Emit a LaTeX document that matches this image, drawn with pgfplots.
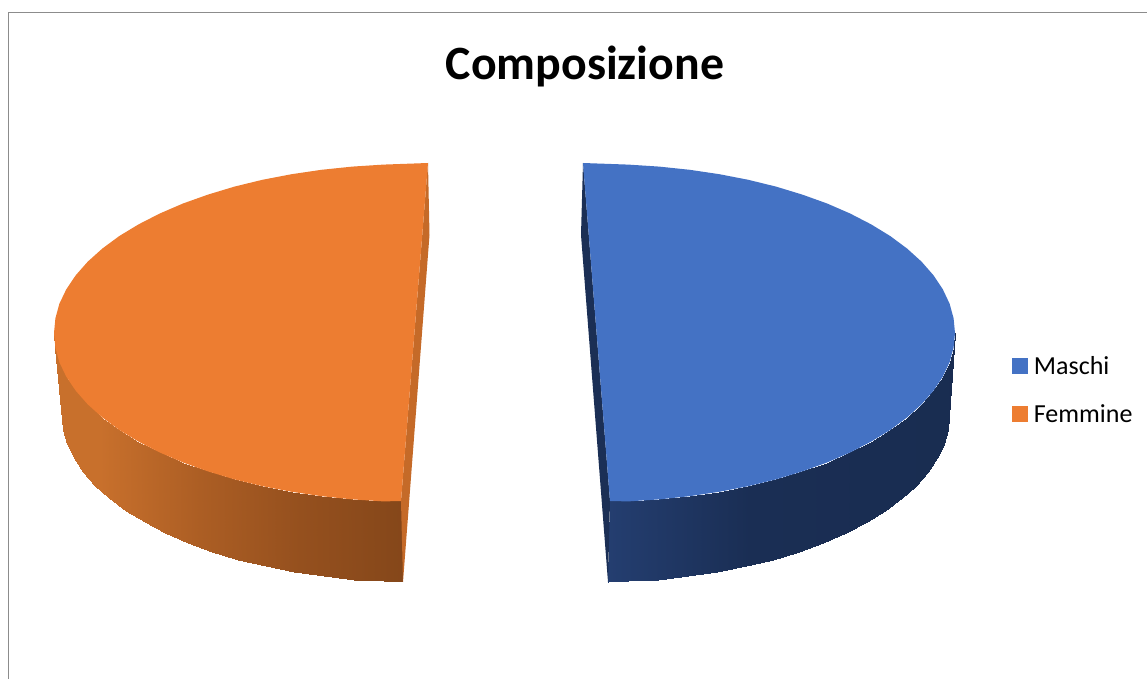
\documentclass[border=0pt]{standalone}
\usepackage{pgfplots}
\pgfplotsset{compat=1.18}
\usepackage{fontspec}
\setmainfont{Carlito}
\definecolor{blutop}{RGB}{68,114,196}
\definecolor{orangetop}{RGB}{237,125,49}
\definecolor{blusliver}{RGB}{27,47,85}
\definecolor{orangesliver}{RGB}{197,106,40}
\begin{document}
\begin{tikzpicture}
\path[use as bounding box] (0,0) rectangle (573.5pt,339.5pt);
\begin{axis}[
  at={(0,0)}, anchor=south west,
  scale only axis, width=573.5pt, height=339.5pt,
  xmin=0, xmax=1147, ymin=0, ymax=679, y dir=reverse,
  hide axis,
  colormap={pie}{rgb255(0pt)=(200,112,44); rgb255(100pt)=(200,112,44); rgb255(200pt)=(172,94,36); rgb255(300pt)=(149,80,30); rgb255(403pt)=(133,71,26); rgb255(607pt)=(133,71,26); rgb255(608pt)=(36,62,112); rgb255(750pt)=(26,46,84); rgb255(1147pt)=(24,43,78)},
  point meta min=0, point meta max=1147,
]
% frame
\addplot[color=black!45, line width=0.9pt] coordinates {(8.5,679) (8.5,12.5) (1147,12.5)};
% side walls
\addplot[surf, shader=interp, mesh/cols=2, point meta=x] coordinates {
(610,501) (608,582)
(628.2,501.4) (627.7,581.4)
(659.2,499.4) (658.1,579.5)
(689.7,496.2) (688.1,576.3)
(719.4,491.8) (717.4,571.9)
(748.3,486.2) (745.8,566.4)
(776,479.4) (773,559.6)
(802.3,471.4) (798.9,551.8)
(827.1,462.5) (823.3,542.9)
(850.1,452.5) (845.9,533.1)
(871.2,441.6) (866.6,522.3)
(890.3,429.9) (885.4,510.8)
(907,417.5) (901.8,498.5)
(921.5,404.4) (916,485.6)
(933.4,390.8) (927.8,472.1)
(942.8,376.7) (937,458.2)
(949.6,362.3) (943.7,444)
(953.6,347.7) (947.7,429.6)
(955,333) (949,415)
};
\addplot[surf, shader=interp, mesh/cols=2, point meta=x] coordinates {
(401,501) (403,582)
(383.5,501.4) (384.2,581.4)
(352.3,499.4) (353.7,579.5)
(321.5,496.2) (323.6,576.3)
(291.6,491.8) (294.2,571.9)
(262.4,486.2) (265.8,566.4)
(234.5,479.4) (238.5,559.6)
(208,471.4) (212.5,551.8)
(183,462.5) (188,542.9)
(159.8,452.5) (165.4,533.1)
(138.5,441.6) (144.6,522.3)
(119.2,429.9) (125.8,510.8)
(102.4,417.5) (109.3,498.5)
(87.8,404.4) (95.1,485.6)
(75.8,390.8) (83.2,472.1)
(66.3,376.7) (74,458.2)
(59.4,362.3) (67.3,444)
(55.4,347.7) (63.3,429.6)
(54,333) (62,415)
};
% inner cut faces
\addplot[fill=blusliver, draw=none] coordinates {(583,163) (581,235) (608,582) (610,501)} -- cycle;
\addplot[fill=orangesliver, draw=none] coordinates {(428,163) (429.5,235) (403,582) (401,501)} -- cycle;
% top faces
\addplot[fill=blutop, draw=none] coordinates {
(583,163) (628.2,164.6) (659.2,166.6) (689.7,169.8) (719.4,174.2) (748.3,179.8) (776,186.6) (802.3,194.6) (827.1,203.5) (850.1,213.5) (871.2,224.4) (890.3,236.1) (907,248.5) (921.5,261.6) (933.4,275.2) (942.8,289.3) (949.6,303.7) (953.6,318.3) (955,333) (953.6,347.7) (949.6,362.3) (942.8,376.7) (933.4,390.8) (921.5,404.4) (907,417.5) (890.3,429.9) (871.2,441.6) (850.1,452.5) (827.1,462.5) (802.3,471.4) (776,479.4) (748.3,486.2) (719.4,491.8) (689.7,496.2) (659.2,499.4) (628.2,501.4) (610,501)
} -- cycle;
\addplot[fill=orangetop, draw=none] coordinates {
(428,163) (383.5,164.6) (352.3,166.6) (321.5,169.8) (291.6,174.2) (262.4,179.8) (234.5,186.6) (208,194.6) (183,203.5) (159.8,213.5) (138.5,224.4) (119.2,236.1) (102.4,248.5) (87.8,261.6) (75.8,275.2) (66.3,289.3) (59.4,303.7) (55.4,318.3) (54,333) (55.4,347.7) (59.4,362.3) (66.3,376.7) (75.8,390.8) (87.8,404.4) (102.4,417.5) (119.2,429.9) (138.5,441.6) (159.8,452.5) (183,462.5) (208,471.4) (234.5,479.4) (262.4,486.2) (291.6,491.8) (321.5,496.2) (352.3,499.4) (383.5,501.4) (401,501)
} -- cycle;
% legend keys
\addplot[only marks, color=blutop, mark=square*, mark size=3.75pt, mark options={solid, line width=0pt, fill=blutop, draw=blutop}] coordinates {(1019.5,365.7)};
\addplot[only marks, color=orangetop, mark=square*, mark size=3.75pt, mark options={solid, line width=0pt, fill=orangetop, draw=orangetop}] coordinates {(1019.5,414.3)};
\node[font=\fontsize{23.9pt}{28pt}\bfseries, anchor=center] at (axis cs:585,66.5) {Composizione};
\node[font=\fontsize{13pt}{15pt}\selectfont, anchor=west, inner sep=0pt] at (axis cs:1033.5,365.5) {Maschi};
\node[font=\fontsize{13pt}{15pt}\selectfont, anchor=west, inner sep=0pt] at (axis cs:1033.5,414) {Femmine};
\end{axis}
\end{tikzpicture}
\end{document}
